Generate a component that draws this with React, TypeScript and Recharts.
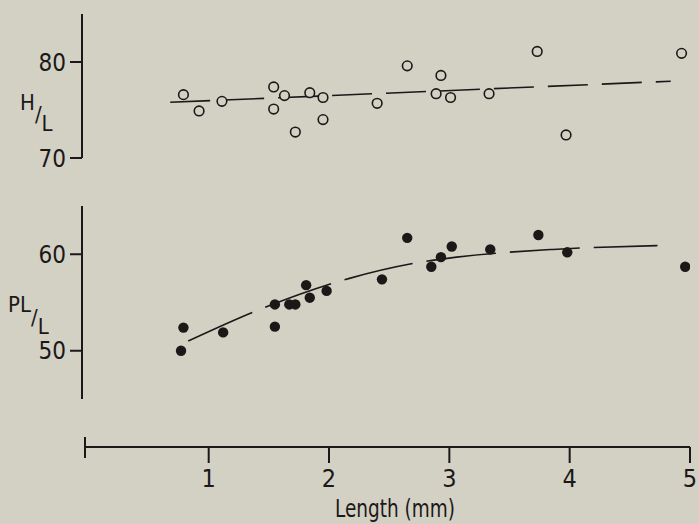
import { ComposedChart, Scatter, Line, XAxis, YAxis } from "recharts";

const INK = "#1c1818";
const PAPER = "#d3d1c4";
const FONT = "'Liberation Sans Narrow', 'DejaVu Sans Condensed', 'Arial Narrow', sans-serif";

// shared length scale (mm); the panels start a little left of 0 where the y axis sits
const PANEL_X: [number, number] = [-0.053, 5];
const AXIS_X: [number, number] = [-0.028, 5];
const lengthTicks = [-0.028, 1, 2, 3, 4, 5];

// H/L panel (open circles)
const hlLength = [0.79, 0.92, 1.11, 1.54, 1.54, 1.63, 1.72, 1.84, 1.95, 1.95, 2.4, 2.65, 2.89, 2.93, 3.01, 3.33, 3.73, 3.97, 4.93];
const hlRatio = [76.6, 74.9, 75.9, 77.4, 75.1, 76.5, 72.7, 76.8, 76.3, 74.0, 75.7, 79.6, 76.7, 78.6, 76.3, 76.7, 81.1, 72.4, 80.9];
const hlFitLength = [0.68, 4.84];
const hlFitRatio = [75.8, 78.0];
const hlTicks = [70, 80];

// PL/L panel (filled circles)
const plLength = [0.77, 0.79, 1.12, 1.55, 1.55, 1.67, 1.72, 1.81, 1.84, 1.98, 2.44, 2.65, 2.85, 2.93, 3.02, 3.34, 3.74, 3.98, 4.96];
const plRatio = [50.0, 52.4, 51.9, 54.8, 52.5, 54.8, 54.8, 56.8, 55.5, 56.2, 57.4, 61.7, 58.7, 59.7, 60.8, 60.5, 62.0, 60.2, 58.7];
const plFitLength = [0.83, 1.43, 2.17, 2.77, 3.06, 3.86, 4.73];
const plFitRatio = [51.0, 54.3, 57.5, 59.2, 59.7, 60.5, 60.9];
const plTicks = [50, 60];

const zip = (xs: number[], ys: number[]) => xs.map((x, i) => ({ x, y: ys[i] }));
const hlPoints = zip(hlLength, hlRatio);
const hlFit = zip(hlFitLength, hlFitRatio);
const plPoints = zip(plLength, plRatio);
const plFit = zip(plFitLength, plFitRatio);

function OpenDot(p: any) {
  return <circle cx={p.cx} cy={p.cy} r={4.8} fill={PAPER} stroke={INK} strokeWidth={1.6} />;
}
function FilledDot(p: any) {
  return <circle cx={p.cx} cy={p.cy} r={5.2} fill={INK} />;
}

// ratio labels: numerator raised, denominator dropped below the slash
function HLLabel() {
  return (
    <text x={20} y={110} fill={INK} fontSize={22}>
      H<tspan dy={12}>/</tspan><tspan dy={9}>L</tspan>
    </text>
  );
}
function PLLabel() {
  return (
    <text x={8} y={122} fill={INK} fontSize={22}>
      PL<tspan dy={13}>/</tspan><tspan dy={9}>L</tspan>
    </text>
  );
}

function LengthTick(p: any) {
  const { x, y, payload } = p;
  if (payload.value < 0.5) {
    return <line x1={x} x2={x} y1={y - 10} y2={y + 11} stroke={INK} strokeWidth={2} />;
  }
  return (
    <g>
      <line x1={x} x2={x} y1={y} y2={y + 16} stroke={INK} strokeWidth={2} />
      <text x={x} y={y + 40} textAnchor="middle" fontSize={25} fill={INK}>
        {payload.value}
      </text>
    </g>
  );
}

// coordinates are inside the axis chart, whose top sits at page y = 430
function LengthLabel() {
  return (
    <text x={395} y={87} textAnchor="middle" fontSize={24} fill={INK} textLength={120} lengthAdjust="spacingAndGlyphs">
      Length (mm)
    </text>
  );
}

const yAxisProps = {
  width: 82,
  axisLine: { stroke: INK, strokeWidth: 2 },
  tickLine: { stroke: INK, strokeWidth: 2 },
  tickSize: 12,
  tickMargin: 4,
  tick: { fontSize: 24, fill: INK },
};

export default function App() {
  return (
    <div style={{ position: "absolute", left: 0, top: 0, width: 699, height: 524, background: PAPER, fontFamily: FONT, overflow: "hidden" }}>
      <div style={{ position: "absolute", left: 0, top: 0 }}>
        <ComposedChart width={699} height={172} margin={{ top: 14, right: 9, bottom: 14, left: 0 }}>
          <XAxis type="number" dataKey="x" domain={PANEL_X} allowDataOverflow hide />
          <YAxis type="number" domain={[70, 85]} ticks={hlTicks} {...yAxisProps} label={{ content: () => <HLLabel /> }} />
          <Line data={hlFit} dataKey="y" type="linear" stroke={INK} strokeWidth={1.6} strokeDasharray="40 14" dot={false} isAnimationActive={false} />
          <Scatter data={hlPoints} dataKey="y" shape={OpenDot} isAnimationActive={false} />
        </ComposedChart>
      </div>
      <div style={{ position: "absolute", left: 0, top: 190 }}>
        <ComposedChart width={699} height={230} margin={{ top: 16, right: 9, bottom: 21, left: 0 }}>
          <XAxis type="number" dataKey="x" domain={PANEL_X} allowDataOverflow hide />
          <YAxis type="number" domain={[45, 65]} ticks={plTicks} {...yAxisProps} label={{ content: () => <PLLabel /> }} />
          <Line data={plFit} dataKey="y" type="monotone" stroke={INK} strokeWidth={1.6} strokeDasharray="70 14" dot={false} isAnimationActive={false} />
          <Scatter data={plPoints} dataKey="y" shape={FilledDot} isAnimationActive={false} />
        </ComposedChart>
      </div>
      <div style={{ position: "absolute", left: 0, top: 430 }}>
        <ComposedChart width={699} height={94} margin={{ top: 0, right: 9, bottom: 0, left: 85 }} data={plPoints}>
          <XAxis
            type="number"
            dataKey="x"
            domain={AXIS_X}
            allowDataOverflow
            ticks={lengthTicks}
            height={77}
            axisLine={{ stroke: INK, strokeWidth: 2 }}
            tickLine={false}
            tickSize={0}
            tickMargin={0}
            tick={LengthTick}
            label={{ content: () => <LengthLabel /> }}
          />
          <YAxis hide domain={[0, 1]} />
        </ComposedChart>
      </div>
    </div>
  );
}
